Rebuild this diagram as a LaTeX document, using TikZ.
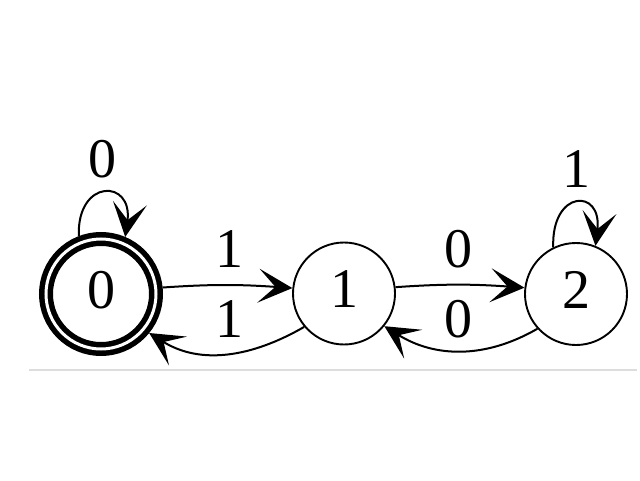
\documentclass[tikz,border=0pt]{standalone}
\usepackage{fontspec}
\setmainfont{Liberation Serif}
\usetikzlibrary{arrows.meta}
\definecolor{rulegray}{HTML}{DDDDDD}
\begin{document}
\begin{tikzpicture}[x=1pt,y=1pt,
  every node/.style={font=\fontsize{56}{60}\selectfont},
  state/.style={circle,draw,line width=1.9pt,minimum size=102pt,inner sep=0pt,text depth=9pt},
  accept/.style={circle,draw,line width=5.5pt,double,double distance=3pt,minimum size=110pt,inner sep=0pt,outer sep=7pt,text depth=9pt},
  edge/.style={line width=2pt,-{Stealth[length=34pt,width=34pt,inset=17pt]}},
  elabel/.style={inner sep=0pt,text depth=0pt}]
\useasboundingbox (0,0) rectangle (640,480);
\node[accept] (n0) at (101,186) {0};
\node[state] (n1) at (344,186.5) {1};
\node[state] (n2) at (576,186) {2};
\coordinate (rl) at (29,110);
\coordinate (rr) at (637,110);
\draw[rulegray,line width=1.3pt] (rl) -- (rr);
% loops
\draw[edge] (n0.111) .. controls +(-2,58) and +(8,58) .. (n0.67);
\draw[edge] (n2.116) .. controls +(-2,58) and +(7,58) .. (n2.68);
% forward
\draw[edge] (n0.6) to[out=4,in=176] (n1.174);
\draw[edge] (n1.7) to[out=4,in=176] (n2.173);
% backward
\draw[edge] (n1.220) to[out=210,in=-32] (n0.321);
\draw[edge] (n2.222) to[out=210,in=-32] (n1.321);
% labels
\node[elabel] (l00) at (102,321) {0};
\node[elabel] (l01) at (229,231) {1};
\node[elabel] (l10) at (229,161) {1};
\node[elabel] (l12) at (458,231) {0};
\node[elabel] (l21) at (458,161) {0};
\node[elabel] (l22) at (576,311) {1};
\end{tikzpicture}
\end{document}
